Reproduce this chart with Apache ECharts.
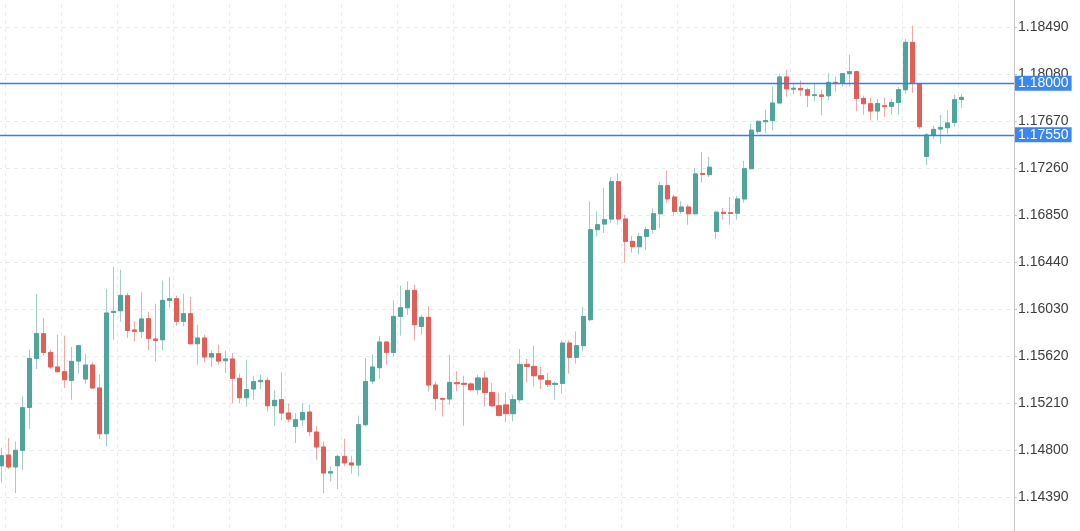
<!DOCTYPE html>
<html>
<head>
<meta charset="utf-8">
<script src="https://cdn.jsdelivr.net/npm/echarts@6/dist/echarts.min.js"></script>
<style>
html,body{margin:0;padding:0;background:#fff;overflow:hidden;width:1080px;height:531px;position:relative;}
#chart{position:absolute;left:-2px;top:-20px;width:1082px;height:564px;}
</style>
</head>
<body>
<div id="chart"></div>
<script>
// ---- data ----
const openV = [
1.14663,1.14756,1.14652,1.14797,1.15172,1.15599,1.15815,1.15651,1.15524,1.15483,
1.15407,1.15576,1.15419,1.15541,1.15341,1.14942,1.16000,1.16015,1.16146,1.15847,
1.15835,1.15945,1.15768,1.15762,1.16105,1.16120,1.15922,1.15989,1.15727,1.15777,
1.15611,1.15640,1.15579,1.15594,1.15425,1.15256,1.15332,1.15396,1.15407,1.15186,
1.15239,1.15123,1.15006,1.15064,1.15131,1.14957,1.14826,1.14599,1.14663,1.14744,
1.14687,1.14669,1.15021,1.15402,1.15518,1.15742,1.15651,1.15965,1.16041,1.16192,
1.15878,1.15957,1.15367,1.15250,1.15245,1.15387,1.15381,1.15376,1.15326,1.15428,
1.15302,1.15186,1.15193,1.15117,1.15239,1.15547,1.15529,1.15448,1.15404,1.15373,
1.15381,1.15733,1.15608,1.15710,1.15937,1.16722,1.16771,1.16815,1.17141,1.16815,
1.16620,1.16573,1.16663,1.16724,1.16861,1.17106,1.17007,1.16881,1.16920,1.16861,
1.17211,1.17202,1.16707,1.16874,1.16870,1.16866,1.16990,1.17254,1.17579,1.17664,
1.17673,1.17827,1.18054,1.17947,1.17954,1.17943,1.17892,1.17897,1.17890,1.18007,
1.18002,1.18083,1.18100,1.17867,1.17821,1.17757,1.17803,1.17797,1.17832,1.17943,
1.18356,1.17995,1.17361,1.17548,1.17600,1.17612,1.17658,1.17858
];
const highV = [
1.14820,1.14905,1.14875,1.15268,1.15675,1.16161,1.15951,1.15675,1.15806,1.15797,
1.15699,1.15719,1.15640,1.15564,1.15457,1.16204,1.16396,1.16373,1.16170,1.15922,
1.16175,1.16004,1.16076,1.16279,1.16309,1.16146,1.16163,1.16135,1.15893,1.15806,
1.15669,1.15719,1.15669,1.15646,1.15466,1.15588,1.15448,1.15457,1.15437,1.15320,
1.15477,1.15204,1.15123,1.15210,1.15195,1.15006,1.14875,1.14657,1.14759,1.14899,
1.14750,1.15099,1.15603,1.15631,1.15791,1.15747,1.16105,1.16233,1.16271,1.16242,
1.15980,1.16053,1.15396,1.15254,1.15631,1.15486,1.15448,1.15390,1.15457,1.15486,
1.15384,1.15302,1.15302,1.15282,1.15681,1.15594,1.15710,1.15524,1.15472,1.15399,
1.15756,1.15756,1.15835,1.16047,1.16969,1.16881,1.17086,1.17181,1.17216,1.16853,
1.16665,1.16696,1.16748,1.16908,1.17143,1.17239,1.17027,1.16969,1.16940,1.17260,
1.17398,1.17356,1.16881,1.16911,1.17007,1.17018,1.17321,1.17646,1.17675,1.17769,
1.17969,1.18083,1.18118,1.18002,1.18024,1.17960,1.17995,1.17941,1.18089,1.18059,
1.18089,1.18248,1.18111,1.17891,1.17871,1.17862,1.17871,1.17862,1.17966,1.18385,
1.18501,1.18002,1.17565,1.17629,1.17722,1.17762,1.17899,1.17908
];
const lowV = [
1.14515,1.14634,1.14425,1.14622,1.14983,1.15507,1.15623,1.15507,1.15477,1.15341,
1.15239,1.15466,1.15378,1.15341,1.14896,1.14831,1.15762,1.15919,1.15777,1.15747,
1.15777,1.15669,1.15573,1.15669,1.16039,1.15884,1.15878,1.15719,1.15544,1.15564,
1.15524,1.15544,1.15472,1.15210,1.15210,1.15180,1.15239,1.15332,1.15137,1.15012,
1.15058,1.15041,1.14861,1.15012,1.14919,1.14715,1.14425,1.14526,1.14460,1.14657,
1.14593,1.14570,1.15006,1.15378,1.15419,1.15544,1.15617,1.15797,1.15980,1.15756,
1.15806,1.15311,1.15145,1.15093,1.15195,1.15311,1.15012,1.15311,1.15282,1.15180,
1.15175,1.15093,1.15041,1.15050,1.15215,1.15390,1.15350,1.15332,1.15350,1.15239,
1.15291,1.15466,1.15553,1.15660,1.15922,1.16663,1.16693,1.16780,1.16765,1.16437,
1.16521,1.16504,1.16545,1.16687,1.16737,1.16955,1.16844,1.16861,1.16765,1.16853,
1.17134,1.17181,1.16641,1.16809,1.16765,1.16809,1.16957,1.17250,1.17559,1.17565,
1.17588,1.17827,1.17882,1.17904,1.17886,1.17792,1.17845,1.17719,1.17851,1.17928,
1.17972,1.17972,1.17754,1.17725,1.17675,1.17675,1.17705,1.17725,1.17725,1.17908,
1.17916,1.17600,1.17289,1.17513,1.17472,1.17559,1.17618,1.17783
];
const closeV = [
1.14750,1.14652,1.14797,1.15169,1.15599,1.15815,1.15651,1.15524,1.15483,1.15413,
1.15573,1.15710,1.15541,1.15341,1.14942,1.15995,1.16009,1.16149,1.15843,1.15835,
1.15943,1.15774,1.15756,1.16105,1.16120,1.15922,1.15989,1.15727,1.15777,1.15611,
1.15640,1.15576,1.15594,1.15425,1.15256,1.15326,1.15396,1.15407,1.15186,1.15233,
1.15123,1.15070,1.15064,1.15128,1.14960,1.14826,1.14599,1.14611,1.14744,1.14687,
1.14669,1.15021,1.15398,1.15524,1.15742,1.15651,1.15965,1.16041,1.16192,1.15893,
1.15957,1.15367,1.15250,1.15243,1.15390,1.15378,1.15373,1.15326,1.15428,1.15302,
1.15186,1.15102,1.15117,1.15239,1.15547,1.15529,1.15448,1.15419,1.15373,1.15381,
1.15733,1.15608,1.15710,1.15965,1.16722,1.16765,1.16809,1.17141,1.16815,1.16620,
1.16573,1.16663,1.16722,1.16861,1.17106,1.16990,1.16881,1.16920,1.16861,1.17208,
1.17204,1.17267,1.16874,1.16864,1.16864,1.16990,1.17254,1.17590,1.17667,1.17673,
1.17827,1.18054,1.17950,1.17956,1.17942,1.17895,1.17899,1.17885,1.18007,1.17998,
1.18083,1.18100,1.17867,1.17821,1.17757,1.17823,1.17795,1.17832,1.17943,1.18356,
1.18002,1.17620,1.17548,1.17597,1.17614,1.17653,1.17856,1.17876
];
const levelLines = [1.18000, 1.17550];
const yTickStart = 1.13980;
const yTickStep = 0.0041;
const yTickEnd = 1.18900;
const categories = openV.map((_, i) => String(i + 1));

// ---- build library data ----
const fullData = openV.map((o, i) => [o, closeV[i], lowV[i], highV[i]]);
const bodyData = openV.map((o, i) => {
  const c = closeV[i];
  return [o, c, Math.min(o, c), Math.max(o, c)];
});

const UP = '#50a59a', DOWN = '#e25f58';
const UP_W = '#9fcfc7', DOWN_W = '#f0aba6';
const BLUE = '#2f7ff5';
const FONT = '"Liberation Sans", Arial, Helvetica, sans-serif';

const chart = echarts.init(document.getElementById('chart'), null, {renderer: 'canvas'});
chart.setOption({
  animation: false,
  backgroundColor: '#ffffff',
  grid: {left: 0, right: 66, top: 0, bottom: 0, containLabel: false, outerBoundsMode: 'none'},
  xAxis: {
    type: 'category',
    data: categories,
    max: 144,
    boundaryGap: true,
    axisLine: {show: false},
    axisTick: {show: false},
    axisLabel: {show: false},
    splitLine: {
      show: true,
      interval: function (idx) { return idx % 8 === 1; },
      lineStyle: {color: '#e6ecef', type: [4, 4], width: 1}
    }
  },
  yAxis: {
    type: 'value',
    position: 'right',
    min: yTickStart,
    max: yTickEnd,
    interval: yTickStep,
    axisLine: {show: true, lineStyle: {color: '#c8c8c8', width: 1}},
    axisTick: {show: true, length: 3, lineStyle: {color: '#c8c8c8'}},
    axisLabel: {
      margin: 4,
      color: '#3d3d3d',
      fontSize: 14,
      fontFamily: FONT,
      formatter: v => v.toFixed(5)
    },
    splitLine: {show: true, lineStyle: {color: '#e6ecef', type: [4, 4], width: 1}}
  },
  series: [
    {
      name: 'wicks',
      type: 'candlestick',
      data: fullData,
      barWidth: 4.6,
      itemStyle: {color: UP_W, color0: DOWN_W, borderColor: UP_W, borderColor0: DOWN_W, borderWidth: 1},
      z: 2
    },
    {
      name: 'bodies',
      type: 'candlestick',
      data: bodyData,
      barWidth: 4.6,
      itemStyle: {color: UP, color0: DOWN, borderColor: UP, borderColor0: DOWN, borderWidth: 1},
      z: 3
    },
    {
      name: 'levels',
      type: 'line',
      data: [],
      silent: true,
      z: 10,
      markLine: {
        silent: true,
        symbol: ['none', 'none'],
        precision: 5,
        lineStyle: {color: BLUE, width: 1.3, type: 'solid', opacity: 1},
        emphasis: {disabled: true},
        label: {
          show: true,
          position: 'end',
          distance: 1,
          color: '#ffffff',
          backgroundColor: '#3a86f2',
          padding: [1, 3, 0, 3],
          fontSize: 14,
          fontFamily: FONT,
          formatter: p => Number(p.value).toFixed(5)
        },
        data: levelLines.map(v => ({yAxis: v, lineStyle: {color: BLUE}}))
      }
    }
  ]
});
</script>
</body>
</html>
